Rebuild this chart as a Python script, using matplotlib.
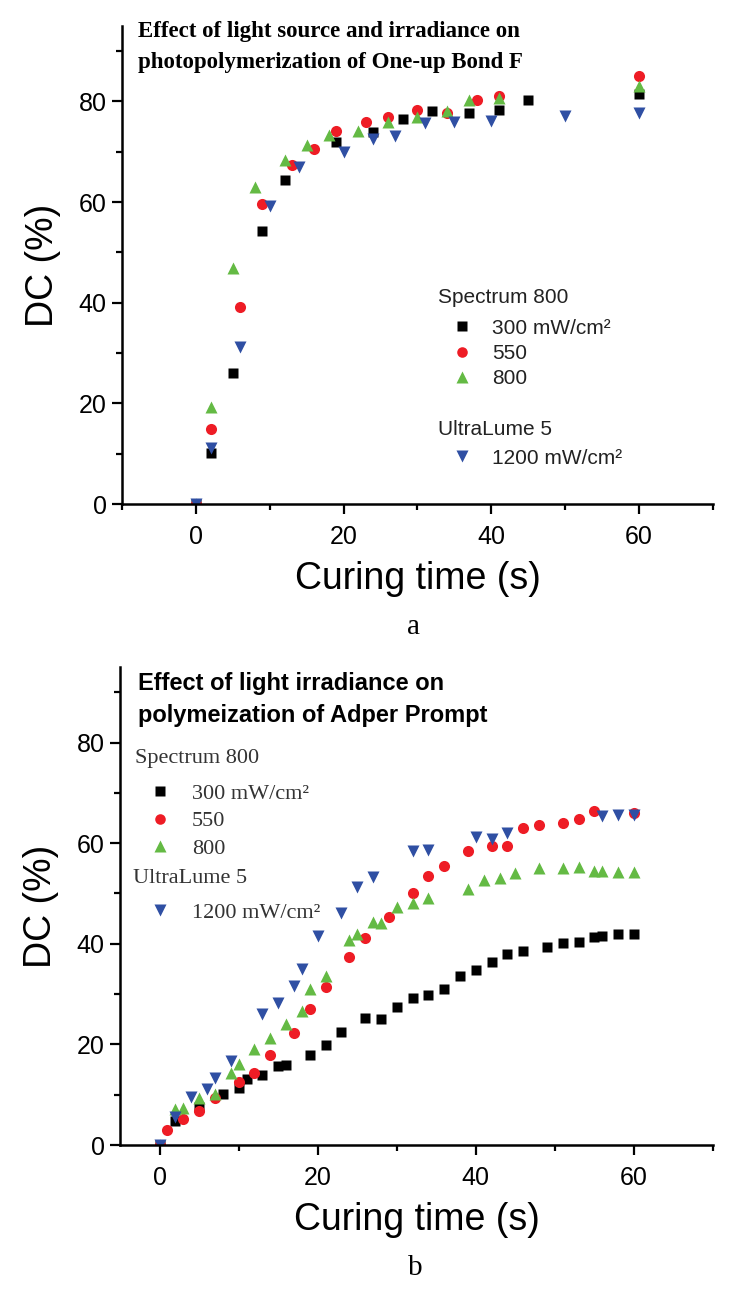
import matplotlib
matplotlib.use('Agg')
import matplotlib.pyplot as plt
from matplotlib.ticker import MultipleLocator

plt.rcParams['font.family'] = 'Liberation Sans'

# Panel a: One-up Bond F
a_t300 = [0, 2, 5, 9, 12, 19, 24, 28, 32, 37, 41, 45, 60]
a_dc300 = [0, 10.2, 26, 54.3, 64.4, 72, 74, 76.5, 78.2, 77.7, 78.3, 80.2, 81.5]
a_t550 = [0, 2, 6, 9, 13, 16, 19, 23, 26, 30, 34, 38, 41, 60]
a_dc550 = [0, 15, 39.2, 59.6, 67.4, 70.5, 74.2, 76, 76.9, 78.3, 77.7, 80.3, 81, 85]
a_t800 = [0, 2, 5, 8, 12, 15, 18, 22, 26, 30, 34, 37, 41, 60]
a_dc800 = [0, 19.3, 46.9, 63, 68.4, 71.4, 73.4, 74.2, 76, 76.9, 78.2, 80.2, 80.7, 83]
a_t1200 = [0, 2, 6, 10, 14, 20, 24, 27, 31, 35, 40, 50, 60]
a_dc1200 = [0, 11.1, 31.2, 59.2, 67, 70, 72.5, 73.2, 75.7, 76, 76.2, 77.1, 77.8]

# Panel b: Adper Prompt
b_t300 = [0, 2, 5, 8, 10, 11, 13, 15, 16, 19, 21, 23, 26, 28, 30, 32, 34, 36, 38, 40,
          42, 44, 46, 49, 51, 53, 55, 56, 58, 60]
b_dc300 = [0, 4.8, 7.5, 10.1, 11.3, 13.1, 13.9, 15.7, 15.9, 17.9, 19.9, 22.5, 25.3, 25,
           27.5, 29.3, 29.8, 31, 33.6, 34.8, 36.4, 38, 38.6, 39.3, 40.1, 40.4, 41.4, 41.6, 42, 42]
b_t550 = [0, 1, 3, 5, 7, 10, 12, 14, 17, 19, 21, 24, 26, 29, 32, 34, 36, 39, 42, 44, 46,
          48, 51, 53, 55, 60]
b_dc550 = [0, 3, 5.1, 6.8, 9.3, 12.6, 14.3, 17.9, 22.3, 27, 31.4, 37.4, 41.1, 45.3, 50,
           53.5, 55.5, 58.5, 59.4, 59.4, 63, 63.6, 64.1, 64.8, 66.3, 66]
b_t800 = [0, 2, 3, 5, 7, 9, 10, 12, 14, 16, 18, 19, 21, 24, 25, 27, 28, 30, 32, 34, 39,
          41, 43, 45, 48, 51, 53, 55, 56, 58, 60]
b_dc800 = [0, 7.1, 7.3, 9.4, 10.1, 14.3, 16.1, 19, 21.2, 24.1, 26.7, 31, 33.6, 40.8, 42,
           44.4, 44.1, 47.4, 48.2, 49.2, 50.8, 52.7, 53, 54, 55, 55, 55.2, 54.5, 54.5, 54.3, 54.3]
b_t1200 = [0, 2, 4, 6, 7, 9, 13, 15, 17, 18, 20, 23, 25, 27, 32, 34, 40, 42, 44, 56, 58, 60]
b_dc1200 = [0, 5.5, 9.6, 11.1, 13.4, 16.8, 26, 28.2, 31.6, 34.9, 41.6, 46.1, 51.2, 53.3,
            58.5, 58.6, 61.2, 60.8, 62.1, 65.4, 65.6, 65.6]

title_a = ['Effect of light source and irradiance on', 'photopolymerization of One-up Bond F']
title_b = ['Effect of light irradiance on', 'polymeization of Adper Prompt']

BLACK = '#000000'
RED = '#ee1c25'
GREEN = '#64ba44'
BLUE = '#2f4fa3'

fig = plt.figure(figsize=(7.32, 12.94), dpi=100)
ax1 = fig.add_axes([0.1667, 0.6105, 0.8073, 0.3694])
ax2 = fig.add_axes([0.1640, 0.1151, 0.8100, 0.3694])


def style_axes(ax, xmin):
    ax.set_xlim(xmin, 70)
    ax.set_ylim(0, 95)
    ax.spines['top'].set_visible(False)
    ax.spines['right'].set_visible(False)
    ax.spines['left'].set_linewidth(1.8)
    ax.spines['bottom'].set_linewidth(1.8)
    ax.xaxis.set_major_locator(MultipleLocator(20))
    ax.xaxis.set_minor_locator(MultipleLocator(10))
    ax.yaxis.set_major_locator(MultipleLocator(20))
    ax.yaxis.set_minor_locator(MultipleLocator(10))
    ax.tick_params(which='major', length=7, width=1.6, labelsize=18)
    ax.tick_params(axis='x', which='major', pad=8)
    ax.tick_params(axis='y', which='major', pad=4)
    ax.tick_params(which='minor', length=4.5, width=1.6)
    ax.set_xlabel('Curing time (s)', fontsize=27, labelpad=9)
    ax.set_ylabel('DC (%)', fontsize=27, labelpad=13)


style_axes(ax1, -10)
style_axes(ax2, -5)

# top panel points
ms = 8
h1, = ax1.plot(a_t300, a_dc300, 's', color=BLACK, ms=ms * 0.95, mec='none')
h2, = ax1.plot(a_t550, a_dc550, 'o', color=RED, ms=ms, mec='none')
h3, = ax1.plot(a_t800, a_dc800, '^', color=GREEN, ms=ms * 1.1, mec='none')
h4, = ax1.plot(a_t1200, a_dc1200, 'v', color=BLUE, ms=ms * 1.1, mec='none')

for line, ypos in zip(title_a, [0.978, 0.913]):
    ax1.text(0.027, ypos, line, transform=ax1.transAxes, ha='left', va='baseline',
             fontsize=16.5, fontweight='bold', family='Liberation Serif')

# legend: headers as text, entries as legends
ax1.text(0.535, 0.431, 'Spectrum 800', transform=ax1.transAxes, ha='left', va='center',
         fontsize=15, color='#222222')
ax1.text(0.535, 0.155, 'UltraLume 5', transform=ax1.transAxes, ha='left', va='center',
         fontsize=15, color='#222222')
leg_a = dict(frameon=False, loc='upper left', handlelength=2.3, handletextpad=0.3,
             borderpad=0, borderaxespad=0, labelspacing=0.3, prop={'size': 15},
             labelcolor='#222222', markerscale=0.95)
lg1 = ax1.legend([h1, h2, h3], ['300 mW/cm²', '550', '800'],
                 bbox_to_anchor=(0.535, 0.388), **leg_a)
ax1.add_artist(lg1)
ax1.legend([h4], ['1200 mW/cm²'], bbox_to_anchor=(0.535, 0.116), **leg_a)

# bottom panel points
g1, = ax2.plot(b_t300, b_dc300, 's', color=BLACK, ms=ms * 0.95, mec='none')
g2, = ax2.plot(b_t550, b_dc550, 'o', color=RED, ms=ms, mec='none')
g3, = ax2.plot(b_t800, b_dc800, '^', color=GREEN, ms=ms * 1.1, mec='none')
g4, = ax2.plot(b_t1200, b_dc1200, 'v', color=BLUE, ms=ms * 1.1, mec='none')

for line, ypos in zip(title_b, [0.951, 0.886]):
    ax2.text(0.030, ypos, line, transform=ax2.transAxes, ha='left', va='baseline',
             fontsize=17, fontweight='bold')

serif = {'family': 'Liberation Serif', 'size': 16}
ax2.text(0.0253, 0.8096, 'Spectrum 800', transform=ax2.transAxes, ha='left', va='center',
         fontdict=serif, color='#333333')
ax2.text(0.0219, 0.5586, 'UltraLume 5', transform=ax2.transAxes, ha='left', va='center',
         fontdict=serif, color='#333333')
leg_b = dict(frameon=False, loc='upper left', handlelength=2.25, handletextpad=0.32,
             borderpad=0, borderaxespad=0, labelspacing=0.32, prop=serif,
             labelcolor='#333333', markerscale=0.95)
lg3 = ax2.legend([g1, g2, g3], ['300 mW/cm²', '550', '800'],
                 bbox_to_anchor=(0.0253, 0.757), **leg_b)
ax2.add_artist(lg3)
ax2.legend([g4], ['1200 mW/cm²'], bbox_to_anchor=(0.0253, 0.508), **leg_b)

fig.text(0.565, 1 - 627 / 1294, 'a', ha='center', va='center', fontsize=21, family='Liberation Serif')
fig.text(0.567, 1 - 1268 / 1294, 'b', ha='center', va='center', fontsize=21, family='Liberation Serif')

fig.savefig('out.png', dpi=100)
